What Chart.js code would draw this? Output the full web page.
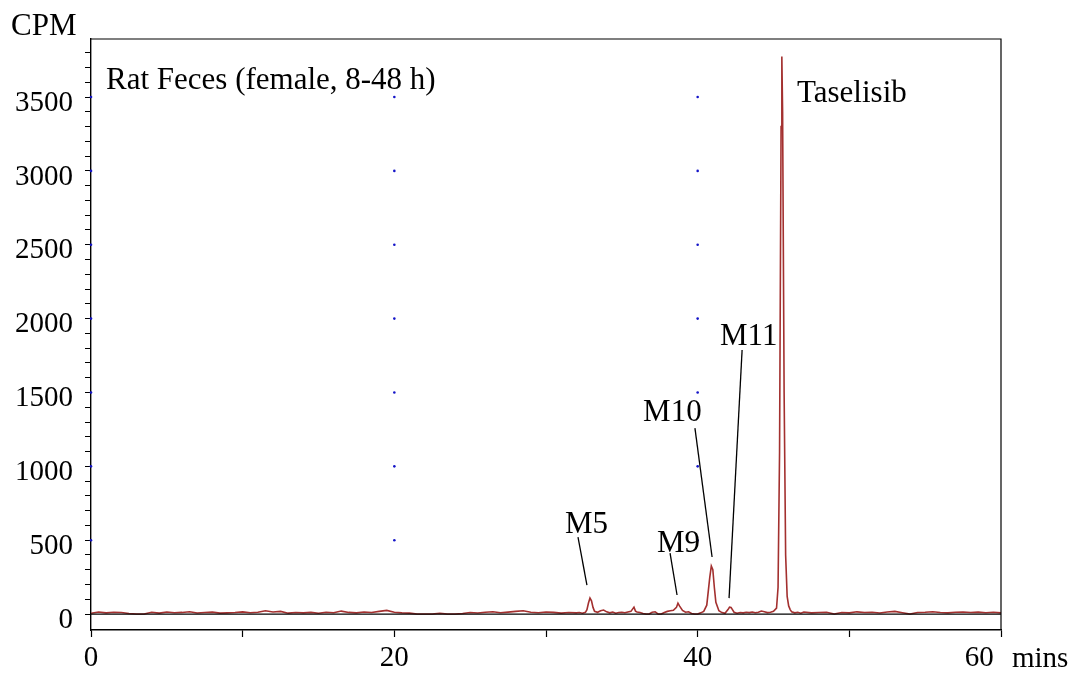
<!DOCTYPE html>
<html>
<head>
<meta charset="utf-8">
<script src="https://cdn.jsdelivr.net/npm/chart.js@4"></script>
<style>
  body { margin: 0; background: #fff; }
  canvas { display: block; }
</style>
</head>
<body>
<canvas id="myChart" width="1075" height="673"></canvas>
<script>
"use strict";

// retention time (min) and radioactivity (CPM)
let times = [
  0, 0.5, 1, 1.5, 2, 2.5, 3, 3.5, 4, 4.5, 5, 5.5, 6, 6.5, 7, 7.5, 8, 8.5, 9, 9.5,
  10, 10.5, 11, 11.5, 12, 12.5, 13, 13.5, 14, 14.5, 15, 15.5, 16, 16.5, 17, 17.5, 18, 18.5, 19, 19.5,
  20, 20.5, 21, 21.5, 22, 22.5, 23, 23.5, 24, 24.5, 25, 25.5, 26, 26.5, 27, 27.5, 28, 28.5, 29, 29.5,
  30, 30.5, 31, 31.5, 32, 32.2, 32.4, 32.6, 32.7, 32.8, 32.9, 33, 33.1, 33.2, 33.4, 33.6, 33.8,
  34, 34.2, 34.4, 34.6, 34.8, 35, 35.2, 35.4, 35.6, 35.8, 35.9, 36, 36.2, 36.4, 36.6, 36.8,
  37, 37.2, 37.4, 37.6, 37.8, 38, 38.2, 38.4, 38.6, 38.7, 38.8, 39, 39.2, 39.4, 39.6, 39.8,
  40, 40.2, 40.4, 40.6, 40.8, 40.9, 41, 41.1, 41.2, 41.4, 41.6, 41.8, 42, 42.1, 42.2, 42.4, 42.6, 42.8,
  43, 43.2, 43.4, 43.6, 43.8, 44, 44.2, 44.4, 44.6, 44.8, 45, 45.2, 45.3, 45.4, 45.5, 45.55, 45.6,
  45.7, 45.8, 45.9, 46, 46.1, 46.2, 46.4, 46.6, 46.8, 47, 47.5, 48, 48.5, 49, 49.5,
  50, 50.5, 51, 51.5, 52, 52.5, 53, 53.5, 54, 54.5, 55, 55.5, 56, 56.5, 57, 57.5, 58, 58.5, 59, 59.5, 60
];
let cpm = [
  5, 14, 8, 12, 10, 4, 0, 0, 12, 6, 14, 9, 11, 16, 7, 10, 13, 6, 8, 10,
  15, 9, 12, 22, 14, 18, 6, 10, 8, 11, 5, 12, 9, 20, 11, 8, 14, 10, 18, 25,
  12, 8, 6, 0, 0, 0, 5, 0, 0, 4, 10, 7, 12, 16, 9, 13, 18, 22, 12, 9,
  14, 11, 6, 10, 8, 10, 6, 12, 30, 75, 108, 90, 45, 18, 12, 22, 27,
  15, 8, 14, 6, 10, 12, 9, 14, 18, 47, 20, 14, 10, 4, 0, 0,
  12, 15, 0, 0, 10, 18, 22, 25, 45, 74, 55, 25, 12, 15, 4, 0,
  0, 8, 18, 60, 250, 325, 300, 180, 80, 22, 10, 5, 30, 47, 45, 12, 6, 10,
  8, 12, 10, 14, 9, 12, 20, 15, 10, 12, 18, 40, 180, 1100, 3300, 3775, 3400,
  1500, 400, 120, 55, 30, 15, 8, 12, 6, 14, 8, 10, 12, 0, 10,
  8, 15, 10, 12, 7, 14, 18, 9, 0, 10, 12, 16, 10, 8, 12, 14, 10, 13, 9, 12, 8
];

// blue reference dots
let dotTimes = [0, 20, 40];
let dotLevels = [500, 1000, 1500, 2000, 2500, 3000, 3500];

let xTicks = [0, 20, 40, 60];
let yTicks = [0, 500, 1000, 1500, 2000, 2500, 3000, 3500];

let traceColor = '#a3302f';
let serif = '"Liberation Serif", "Times New Roman", serif';

let tracePoints = [];
for (let i = 0; i < times.length; i++) {
  tracePoints.push({x: times[i], y: cpm[i]});
}
let dotPoints = [];
for (let i = 0; i < dotTimes.length; i++) {
  for (let j = 0; j < dotLevels.length; j++) {
    dotPoints.push({x: dotTimes[i], y: dotLevels[j]});
  }
}

// peak labels with their leader lines, in data units
let peakLabels = [
  {text: 'M5', x: 31.25, y: 548, from: [32.11, 521], to: [32.70, 196]},
  {text: 'M9', x: 37.32, y: 420, from: [38.18, 413], to: [38.64, 129]},
  {text: 'M10', x: 36.40, y: 1307, from: [39.82, 1259], to: [40.95, 386]},
  {text: 'M11', x: 41.47, y: 1821, from: [42.93, 1787], to: [42.07, 108]},
  {text: 'Taselisib', x: 46.55, y: 3466}
];

const extras = {
  id: 'extras',
  afterDraw(chart) {
    const ctx = chart.ctx;
    const area = chart.chartArea;
    const xs = chart.scales.x;
    const ys = chart.scales.y;
    ctx.save();
    // frame and zero line
    ctx.strokeStyle = '#000';
    ctx.lineWidth = 1.2;
    ctx.beginPath();
    ctx.moveTo(area.left, area.top);
    ctx.lineTo(area.right, area.top);
    ctx.lineTo(area.right, area.bottom);
    ctx.stroke();
    ctx.beginPath();
    ctx.moveTo(area.left, ys.getPixelForValue(0));
    ctx.lineTo(area.right, ys.getPixelForValue(0));
    ctx.stroke();

    ctx.fillStyle = '#000';
    ctx.textBaseline = 'alphabetic';
    ctx.textAlign = 'left';
    ctx.font = '29px ' + serif;
    ctx.fillText('mins', 1012, 667);
    ctx.font = '31px ' + serif;
    ctx.fillText('CPM', 11, 35);
    ctx.fillText('Rat Feces (female, 8-48 h)', xs.getPixelForValue(0.99), ys.getPixelForValue(3554));

    ctx.lineWidth = 1.3;
    peakLabels.forEach(function(p) {
      ctx.fillText(p.text, xs.getPixelForValue(p.x), ys.getPixelForValue(p.y));
      if (p.from) {
        ctx.beginPath();
        ctx.moveTo(xs.getPixelForValue(p.from[0]), ys.getPixelForValue(p.from[1]));
        ctx.lineTo(xs.getPixelForValue(p.to[0]), ys.getPixelForValue(p.to[1]));
        ctx.stroke();
      }
    });
    ctx.restore();
  }
};

const ctx = document.getElementById('myChart').getContext('2d');
const myChart = new Chart(ctx, {
  type: 'line',
  data: {
    datasets: [{
      data: tracePoints,
      borderColor: traceColor,
      borderWidth: 1.6,
      pointRadius: 0,
      tension: 0,
      fill: false
    }, {
      type: 'scatter',
      data: dotPoints,
      pointRadius: 1.3,
      pointBackgroundColor: '#1414c8',
      pointBorderWidth: 0,
      showLine: false,
      clip: false
    }]
  },
  options: {
    responsive: false,
    animation: false,
    layout: {padding: {top: 39, right: 74, left: 0, bottom: 0}},
    plugins: {legend: {display: false}, tooltip: {enabled: false}},
    scales: {
      x: {
        type: 'linear',
        min: 0,
        max: 60,
        afterFit: function(scale) { scale.height = 43; },
        ticks: {
          stepSize: 10,
          autoSkip: false,
          maxRotation: 0,
          color: '#000',
          padding: 4,
          font: {family: serif, size: 29},
          callback: function(value) {
            if (value === 60) return '60      ';
            return xTicks.indexOf(value) >= 0 ? String(value) : '';
          }
        },
        grid: {drawOnChartArea: false, tickLength: 7, color: '#000', tickWidth: 1.2},
        border: {color: '#000', width: 1.4}
      },
      y: {
        min: -108,
        max: 3893,
        afterFit: function(scale) { scale.width = 91; },
        afterBuildTicks: function(scale) {
          let list = [];
          for (let v = 0; v <= 3800; v += 100) list.push({value: v});
          scale.ticks = list;
        },
        ticks: {
          autoSkip: false,
          color: '#000',
          padding: 12,
          labelOffset: 6,
          font: {family: serif, size: 29},
          callback: function(value) {
            return yTicks.indexOf(Math.round(value)) >= 0 ? String(Math.round(value)) : '';
          }
        },
        grid: {drawOnChartArea: false, tickLength: 6, color: '#000', tickWidth: 1},
        border: {color: '#000', width: 1.4}
      }
    }
  },
  plugins: [extras]
});
</script>
</body>
</html>
